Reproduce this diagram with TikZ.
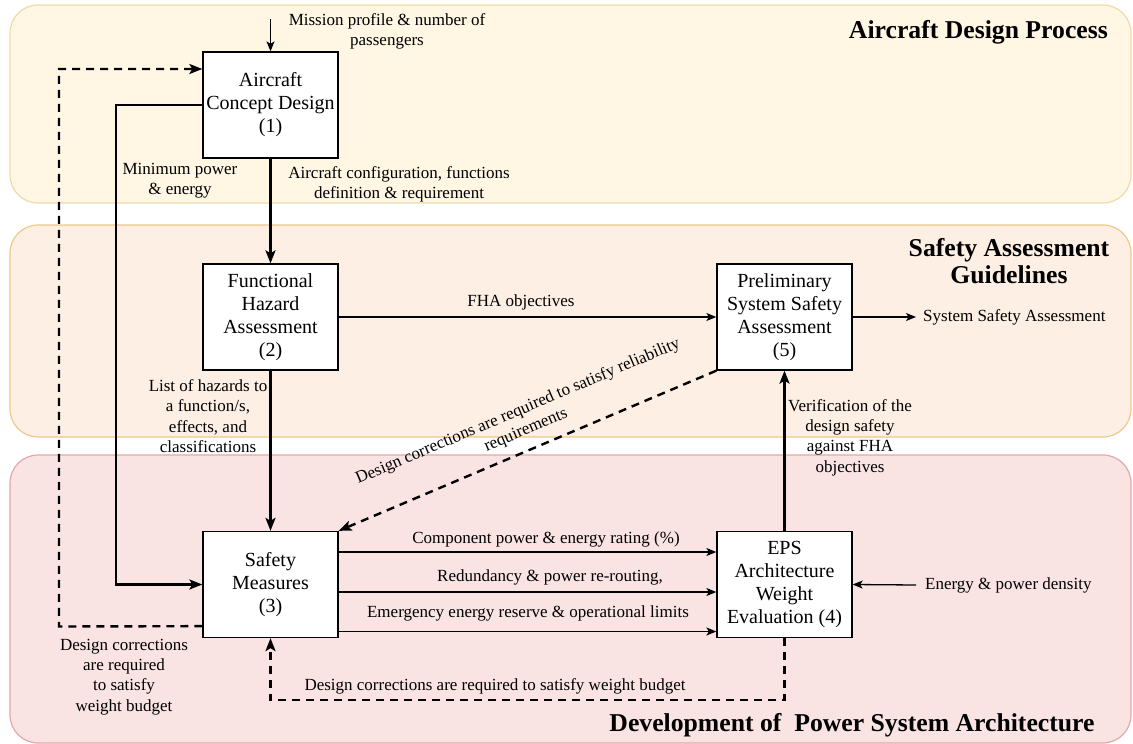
\documentclass[tikz,border=0pt]{standalone}
\usepackage{fontspec}
\setmainfont{Liberation Serif}
\usetikzlibrary{arrows.meta}
\definecolor{topfill}{HTML}{FFF6E4}
\definecolor{topdraw}{HTML}{EEDBA8}
\definecolor{midfill}{HTML}{FDEFE3}
\definecolor{middraw}{HTML}{EDC98A}
\definecolor{botfill}{HTML}{F9E3E3}
\definecolor{botdraw}{HTML}{DFA9A8}
\begin{document}
\begin{tikzpicture}[x=1pt,y=-1pt,
  band/.style={rounded corners=28pt, line width=1.2pt},
  proc/.style={draw=black, fill=white, line width=1.3pt, minimum width=135pt, minimum height=106pt, inner sep=0pt, align=center, font=\fontsize{20}{23}\selectfont},
  lbl/.style={align=center, inner sep=0pt, font=\fontsize{17}{20.3}\selectfont},
  ttl/.style={align=center, inner sep=0pt, font=\fontsize{25.7}{27}\selectfont\bfseries},
  weak/.style={line width=1.3pt, -{Stealth[length=10pt,width=8pt,inset=2.5pt]}},
  strong/.style={line width=2.4pt, -{Stealth[length=13pt,width=10pt,inset=3pt]}},
  dashstrong/.style={strong, dash pattern=on 8pt off 6pt}]
\useasboundingbox (0,0) rectangle (1133,744);
% bands
\draw[band, draw=topdraw, fill=topfill] (10,5) rectangle (1131,203);
\draw[band, draw=middraw, fill=midfill] (10,225) rectangle (1131,437);
\draw[band, draw=botdraw, fill=botfill] (10,455) rectangle (1131,743);
% titles
\node[ttl, anchor=east] (t1) at (1108,32) {Aircraft Design Process};
\node[ttl] (t2) at (1009,261) {Safety Assessment\\Guidelines};
\node[ttl] (t3) at (852,725) {Development of\ \ Power System Architecture};
% boxes
\node[proc] (b1) at (270.5,105) {Aircraft\\Concept Design\\(1)};
\node[proc] (b2) at (270.5,317) {Functional\\Hazard\\Assessment\\(2)};
\node[proc] (b3) at (270.5,584.5) {Safety\\Measures\\(3)};
\node[proc] (b4) at (784.5,584.5) {EPS\\Architecture\\Weight\\Evaluation (4)};
\node[proc] (b5) at (784.5,317) {Preliminary\\System Safety\\Assessment\\(5)};
% mission profile
\coordinate (m0) at (270.5,19);
\draw[weak] (m0) -- (b1.north);
\node[lbl] (mlab) at (387,31) {Mission profile \& number of\\passengers};
% b1 -> b2
\draw[strong] (b1.south) -- (b2.north);
\node[lbl] (l12) at (399,184) {Aircraft configuration, functions\\definition \& requirement};
% b1 -> b3 (minimum power)
\coordinate (c1) at (116,105);
\draw[strong] (b1.west) -- (c1) |- (b3.west);
\node[lbl] (l13) at (180,181) {Minimum power\\\& energy};
% dashed loop b3 -> b1
\coordinate (d1) at (59,626.5);
\coordinate (d2) at (59,69);
\draw[dashstrong] ([yshift=12pt]b3.south west) -- (d1) -- (d2) -- (d2 -| b1.west);
\node[lbl] (l31) at (124,677) {Design corrections\\are required\\to satisfy\\weight budget};
% b2 -> b5
\draw[weak] (b2.east) -- (b5.west);
\node[lbl] (l25) at (521,302) {FHA objectives};
% b2 -> b3
\draw[strong] (b2.south) -- (b3.north);
\node[lbl] (l23) at (208,416) {List of hazards to\\a function/s,\\effects, and\\classifications};
% b4 -> b5
\draw[strong] (b4.north) -- (b5.south);
\node[lbl] (l45) at (850,437.5) {Verification of the\\design safety\\against FHA\\objectives};
% b5 -> SSA
\node[lbl, inner xsep=7pt, anchor=west] (ssa) at (916,317) {System Safety Assessment};
\draw[weak] (b5.east) -- (ssa.west);
% energy density -> b4
\node[lbl, inner xsep=9pt, anchor=west] (epd) at (916,585) {Energy \& power density};
\draw[weak] (epd.west) -- (b4.east);
% three arrows b3 -> b4
\draw[weak] ([yshift=32.5pt]b3.east) -- ([yshift=32.5pt]b4.west);
\draw[weak] ([yshift=-7.5pt]b3.east) -- ([yshift=-7.5pt]b4.west);
\draw[weak] ([yshift=-47pt]b3.east) -- ([yshift=-47pt]b4.west);
\node[lbl] (a1) at (546,539) {Component power \& energy rating (\%)};
\node[lbl] (a2) at (550,577) {Redundancy \& power re-routing,};
\node[lbl] (a3) at (528,613) {Emergency energy reserve \& operational limits};
% b4 -> b3 dashed
\coordinate (e1) at (784.5,700);
\coordinate (e2) at (270.5,700);
\draw[dashstrong] (b4.south) -- (e1) -- (e2) -- (b3.south);
\node[lbl] (l43) at (495,686) {Design corrections are required to satisfy weight budget};
% b5 -> b3 diagonal dashed
\draw[dashstrong] (b5.south west) -- (b3.north east);
\node[lbl, rotate=23] (l53) at (522,421) {Design corrections are required to satisfy reliability\\requirements};
\end{tikzpicture}
\end{document}
